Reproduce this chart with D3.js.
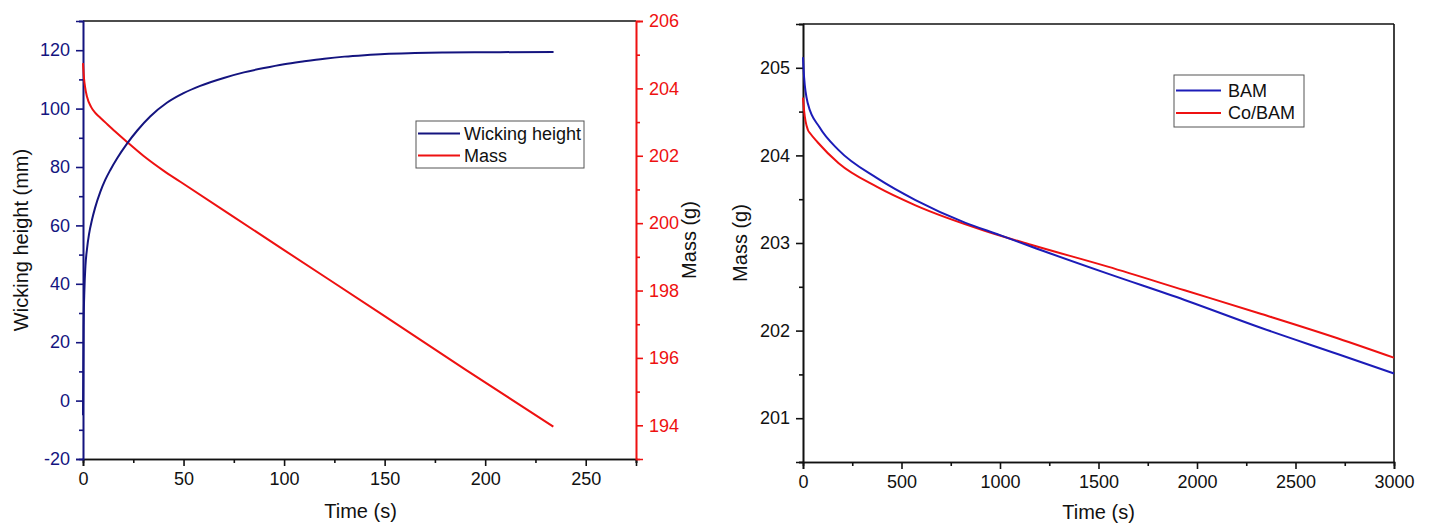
<!DOCTYPE html>
<html>
<head>
<meta charset="utf-8">
<script src="https://cdn.jsdelivr.net/npm/d3@7"></script>
<style>
  body { margin: 0; background: #fff; }
  svg { font-family: "Liberation Sans", Arial, sans-serif; }
</style>
</head>
<body>
<div id="chart"></div>
<script>
// Datos panel izquierdo: altura de capilaridad y masa frente al tiempo
const wickTime   = [0, 0.3, 0.7, 1.2, 2, 3, 4.5, 6, 8.6, 11, 13.6, 17, 21.9, 27, 33.4, 41.7, 50, 58.3, 70, 80, 90, 100, 110, 120, 130, 140, 150, 165, 180, 200, 234];
const wickHeight = [-5, 25, 38, 46, 52, 57, 62, 66, 71.5, 75.5, 79, 83, 88, 92.5, 97.3, 102, 105.3, 107.8, 110.5, 112.4, 113.9, 115.2, 116.2, 117.1, 117.8, 118.3, 118.7, 119, 119.2, 119.3, 119.4];

const massTime = [0, 0.5, 1, 2, 4, 6, 8.6, 12, 16, 21.9, 30, 40, 48.4, 100, 150, 190, 233.9];
const massLeft = [204.75, 204.3, 204.05, 203.75, 203.45, 203.28, 203.13, 202.94, 202.72, 202.41, 202.0, 201.56, 201.23, 199.2, 197.24, 195.66, 193.96];

// Datos panel derecho: masa de BAM y Co/BAM
const bamTime = [0, 5.6, 25, 84, 181, 376, 571, 825, 1000, 1157, 1547, 1937, 2327, 2717, 3000];
const bamMass = [205.12, 204.89, 204.59, 204.32, 204.06, 203.74, 203.49, 203.23, 203.09, 202.96, 202.65, 202.35, 202.03, 201.73, 201.51];
const coTime  = [0, 5.6, 25, 37, 74, 181, 376, 571, 922, 1157, 1547, 1937, 2327, 2717, 3000];
const coMass  = [204.66, 204.51, 204.29, 204.25, 204.15, 203.91, 203.64, 203.43, 203.14, 202.98, 202.73, 202.46, 202.19, 201.91, 201.69];

// Ticks
const leftXTicks   = [0, 50, 100, 150, 200, 250];
const leftXMinor   = [25, 75, 125, 175, 225, 275];
const heightTicks  = [-20, 0, 20, 40, 60, 80, 100, 120];
const heightMinor  = [-10, 10, 30, 50, 70, 90, 110, 130];
const massLTicks   = [194, 196, 198, 200, 202, 204, 206];
const massLMinor   = [195, 197, 199, 201, 203, 205];
const rightXTicks  = [0, 500, 1000, 1500, 2000, 2500, 3000];
const rightXMinor  = [250, 750, 1250, 1750, 2250, 2750];
const massRTicks   = [201, 202, 203, 204, 205];
const massRMinor   = [200.5, 201.5, 202.5, 203.5, 204.5, 205.5];

const NAVY = '#14147f';
const RED = '#ee1111';
const BLUE = '#1c1cb8';
const TICK_FONT = 18;
const TITLE_FONT = 20;

const svg = d3.select('#chart').append('svg')
    .attr('width', 1429)
    .attr('height', 525);

// etiquetas con guion normal, como en el original
const plain = d => String(d);

function drawAxis(g, axis, color) {
    g.call(axis);
    g.select('.domain').attr('stroke', color).attr('stroke-width', 1.6);
    g.selectAll('.tick line').attr('stroke', color).attr('stroke-width', 1.6);
    g.selectAll('.tick text').attr('fill', color).style('font-size', TICK_FONT + 'px');
}

const line = (x, y) => d3.line()
    .x(d => x(d[0]))
    .y(d => y(d[1]))
    .curve(d3.curveMonotoneX);

function title(txt, x, y, rotate) {
    svg.append('text')
        .attr('transform', `translate(${x},${y})` + (rotate ? ' rotate(-90)' : ''))
        .attr('text-anchor', 'middle').style('font-size', TITLE_FONT + 'px').attr('fill', '#111')
        .text(txt);
}

// ---------- Panel izquierdo ----------
const L = { x0: 83, x1: 636, y0: 21, y1: 459 };
const xL = d3.scaleLinear().domain([0, 275]).range([L.x0, L.x1]);
const yH = d3.scaleLinear().domain([-20, 130]).range([L.y1, L.y0]);
const yM = d3.scaleLinear().domain([193, 206]).range([L.y1, L.y0]);

// borde superior
svg.append('line')
    .attr('x1', L.x0).attr('x2', L.x1).attr('y1', L.y0).attr('y2', L.y0)
    .attr('stroke', '#111').attr('stroke-width', 1.6);

drawAxis(svg.append('g').attr('transform', `translate(0,${L.y1})`),
    d3.axisBottom(xL).tickValues(leftXTicks).tickSize(7).tickPadding(6).tickFormat(plain), '#111');
drawAxis(svg.append('g').attr('transform', `translate(0,${L.y1})`),
    d3.axisBottom(xL).tickValues(leftXMinor).tickSize(4).tickFormat(''), '#111');

drawAxis(svg.append('g').attr('transform', `translate(${L.x0},0)`),
    d3.axisLeft(yH).tickValues(heightTicks).tickSize(7).tickPadding(6).tickFormat(plain), NAVY);
drawAxis(svg.append('g').attr('transform', `translate(${L.x0},0)`),
    d3.axisLeft(yH).tickValues(heightMinor).tickSize(4).tickFormat(''), NAVY);

drawAxis(svg.append('g').attr('transform', `translate(${L.x1},0)`),
    d3.axisRight(yM).tickValues(massLTicks).tickSize(7).tickPadding(6).tickFormat(plain), RED);
drawAxis(svg.append('g').attr('transform', `translate(${L.x1},0)`),
    d3.axisRight(yM).tickValues(massLMinor).tickSize(4).tickFormat(''), RED);

svg.append('path')
    .datum(massTime.map((t, i) => [t, massLeft[i]]))
    .attr('d', line(xL, yM))
    .attr('fill', 'none').attr('stroke', RED).attr('stroke-width', 2);

svg.append('path')
    .datum(wickTime.map((t, i) => [t, wickHeight[i]]))
    .attr('d', line(xL, yH))
    .attr('fill', 'none').attr('stroke', NAVY).attr('stroke-width', 2);

title('Time (s)', (L.x0 + L.x1) / 2 + 1, 518, false);
title('Wicking height (mm)', 28, (L.y0 + L.y1) / 2, true);
title('Mass (g)', 696, (L.y0 + L.y1) / 2, true);

// leyenda izquierda
const legL = svg.append('g').attr('transform', 'translate(416,121)');
legL.append('rect').attr('width', 168).attr('height', 47)
    .attr('fill', '#fff').attr('stroke', '#555').attr('stroke-width', 1);
[['Wicking height', NAVY], ['Mass', RED]].forEach(([name, c], i) => {
    const y = 12.5 + i * 22;
    legL.append('line').attr('x1', 2).attr('x2', 44).attr('y1', y).attr('y2', y)
        .attr('stroke', c).attr('stroke-width', 2);
    legL.append('text').attr('x', 48).attr('y', y).attr('dy', '0.36em')
        .style('font-size', '18px').attr('fill', '#111').text(name);
});

// ---------- Panel derecho ----------
const R = { x0: 803, x1: 1394, y0: 24, y1: 462 };
const xR = d3.scaleLinear().domain([0, 3000]).range([R.x0, R.x1]);
const yR = d3.scaleLinear().domain([200.5, 205.5]).range([R.y1, R.y0]);

svg.append('line')
    .attr('x1', R.x0).attr('x2', R.x1).attr('y1', R.y0).attr('y2', R.y0)
    .attr('stroke', '#111').attr('stroke-width', 1.6);
svg.append('line')
    .attr('x1', R.x1).attr('x2', R.x1).attr('y1', R.y0).attr('y2', R.y1)
    .attr('stroke', '#111').attr('stroke-width', 1.6);

drawAxis(svg.append('g').attr('transform', `translate(0,${R.y1})`),
    d3.axisBottom(xR).tickValues(rightXTicks).tickSize(7).tickPadding(6).tickFormat(plain), '#111');
drawAxis(svg.append('g').attr('transform', `translate(0,${R.y1})`),
    d3.axisBottom(xR).tickValues(rightXMinor).tickSize(4).tickFormat(''), '#111');

drawAxis(svg.append('g').attr('transform', `translate(${R.x0},0)`),
    d3.axisLeft(yR).tickValues(massRTicks).tickSize(7).tickPadding(6).tickFormat(plain), '#111');
drawAxis(svg.append('g').attr('transform', `translate(${R.x0},0)`),
    d3.axisLeft(yR).tickValues(massRMinor).tickSize(4).tickFormat(''), '#111');

svg.append('path')
    .datum(coTime.map((t, i) => [t, coMass[i]]))
    .attr('d', line(xR, yR))
    .attr('fill', 'none').attr('stroke', RED).attr('stroke-width', 2);
svg.append('path')
    .datum(bamTime.map((t, i) => [t, bamMass[i]]))
    .attr('d', line(xR, yR))
    .attr('fill', 'none').attr('stroke', BLUE).attr('stroke-width', 2);

title('Time (s)', (R.x0 + R.x1) / 2, 519, false);
title('Mass (g)', 747, (R.y0 + R.y1) / 2, true);

// leyenda derecha
const legR = svg.append('g').attr('transform', 'translate(1174,75)');
legR.append('rect').attr('width', 130).attr('height', 52)
    .attr('fill', '#fff').attr('stroke', '#555').attr('stroke-width', 1);
[['BAM', BLUE], ['Co/BAM', RED]].forEach(([name, c], i) => {
    const y = 15.5 + i * 22.5;
    legR.append('line').attr('x1', 2).attr('x2', 47).attr('y1', y).attr('y2', y)
        .attr('stroke', c).attr('stroke-width', 2);
    legR.append('text').attr('x', 54).attr('y', y).attr('dy', '0.36em')
        .style('font-size', '18px').attr('fill', '#111').text(name);
});
</script>
</body>
</html>
